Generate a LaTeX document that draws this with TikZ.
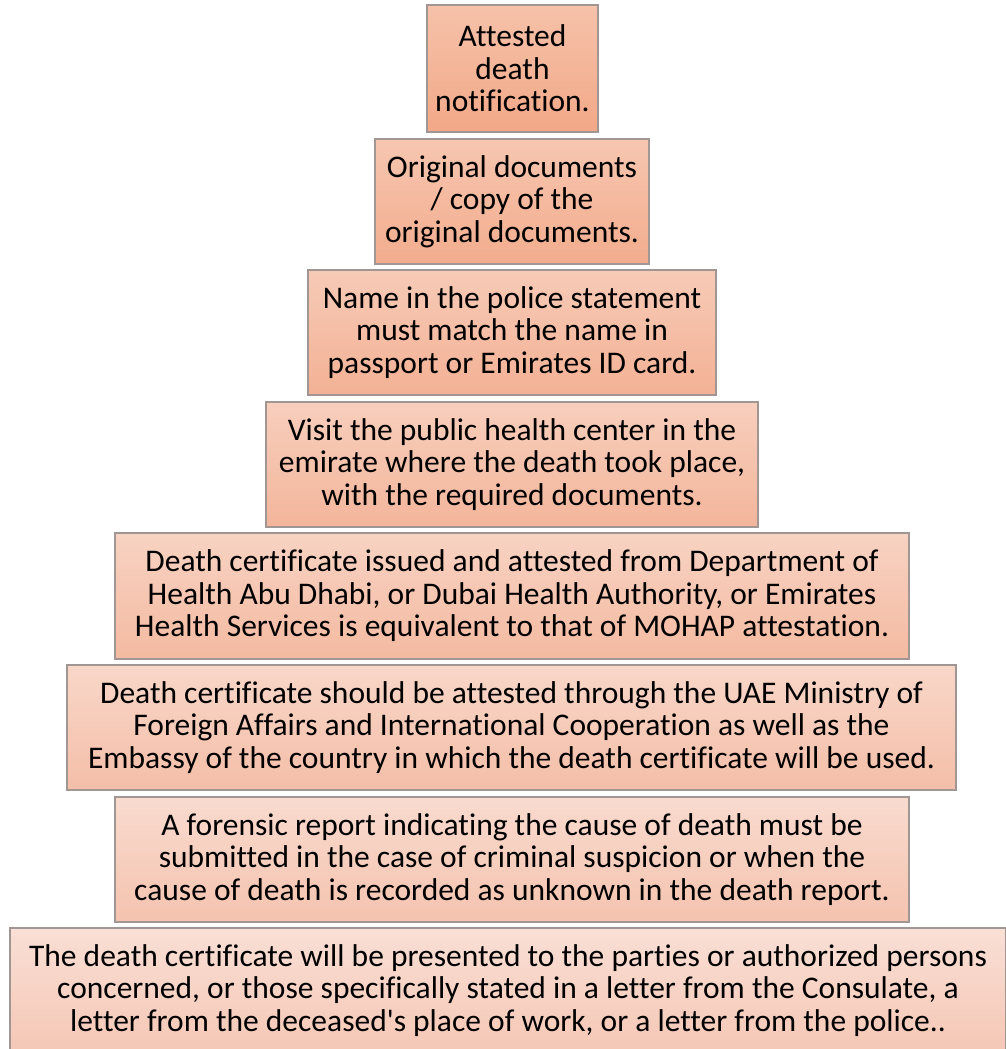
\documentclass[tikz,border=0pt]{standalone}
\usepackage{fontspec}
\newfontfamily\carl{Carlito}[Ligatures=NoCommon]
\definecolor{topA}{RGB}{246,194,170}
\definecolor{botA}{RGB}{242,168,135}
\definecolor{topH}{RGB}{249,223,213}
\definecolor{botH}{RGB}{245,199,181}
\definecolor{edge}{RGB}{160,150,148}
\tikzset{
  stepbox/.style={draw=edge, line width=1.2pt, align=center, inner sep=0pt,
    font=\carl\fontsize{31.5}{32.5}\selectfont, text=black},
  lvl/.style={top color=topA!#1!topH, bottom color=botA!#1!botH}
}
\newcommand{\boxat}[7]{% name, x1, y1, x2, y2, pct, text
  \node[stepbox, lvl=#6, minimum width={(#4-#2)*1pt}, minimum height={(#5-#3)*1pt}]
    (#1) at ({(#2+#4)/2*1pt},{-(#3+#5)/2*1pt}) {#7};}
\begin{document}
\begin{tikzpicture}
\useasboundingbox (0,0) rectangle (1006pt,-1049pt);
\boxat{b1}{427}{5}{598}{132}{100}{Attested\\death\\notification.}
\boxat{b2}{375}{139}{649}{264}{86}{Original documents\\/ copy of the\\original documents.}
\boxat{b3}{308}{270}{716}{395}{71}{Name in the police statement\\must match the name in\\passport or Emirates ID card.}
\boxat{b4}{266}{402}{758}{527}{57}{Visit the public health center in the\\emirate where the death took place,\\with the required documents.}
\boxat{b5}{115}{533}{909}{659}{43}{Death certificate issued and attested from Department of\\Health Abu Dhabi, or Dubai Health Authority, or Emirates\\Health Services is equivalent to that of MOHAP attestation.}
\boxat{b6}{67}{665}{956}{790}{29}{Death certificate should be attested through the UAE Ministry of\\Foreign Affairs and International Cooperation as well as the\\Embassy of the country in which the death certificate will be used.}
\boxat{b7}{115}{797}{909}{922}{14}{A forensic report indicating the cause of death must be\\submitted in the case of criminal suspicion or when the\\cause of death is recorded as unknown in the death report.}
\boxat{b8}{10}{928}{1006}{1053}{0}{The death certificate will be presented to the parties or authorized persons\\concerned, or those specifically stated in a letter from the Consulate, a\\letter from the deceased's place of work, or a letter from the police..}
\end{tikzpicture}
\end{document}
